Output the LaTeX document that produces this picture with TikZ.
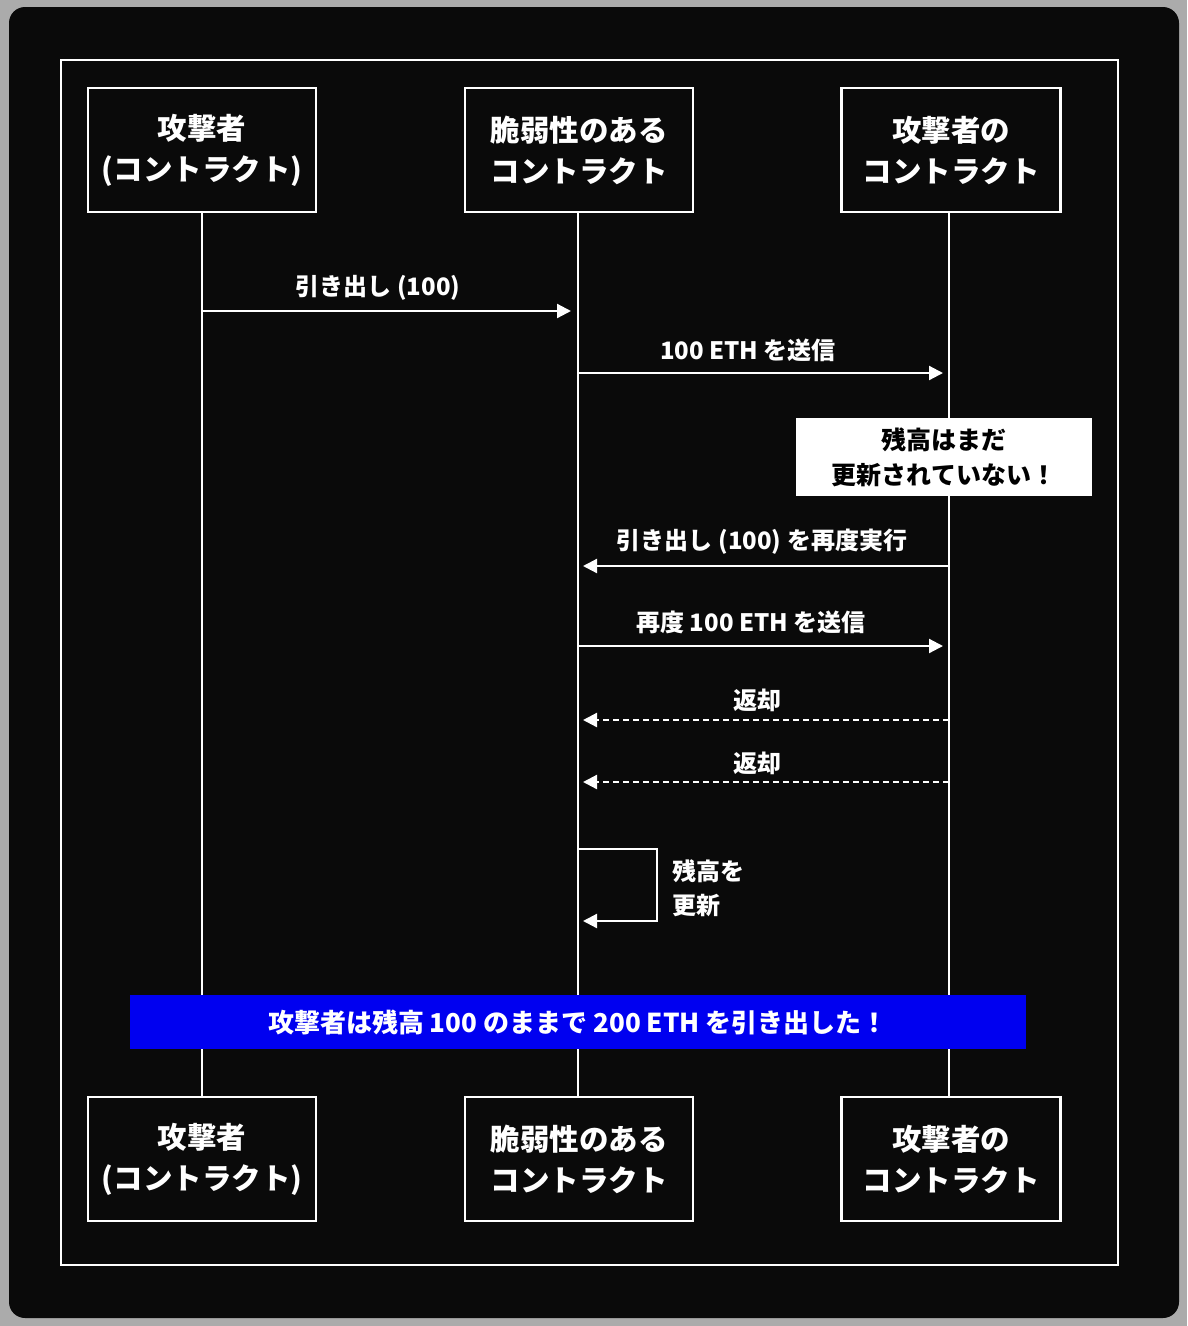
\documentclass[tikz,border=0pt]{standalone}
\usepackage{fontspec}
\setmainfont{Noto Sans CJK JP}
\usetikzlibrary{arrows.meta}
\definecolor{bggray}{HTML}{ABABAB}
\definecolor{panel}{HTML}{0A0A0A}
\definecolor{banner}{HTML}{0000F0}
\begin{document}
\begin{tikzpicture}[x=1pt,y=-1pt,
  actor/.style={draw=white,line width=2.5pt,fill=panel,text=white,align=center,
    minimum height=124pt,font=\bfseries\fontsize{29.5}{41}\selectfont,inner sep=0pt},
  life/.style={draw=white,line width=2.2pt},
  msg/.style={draw=white,line width=2.2pt,-{Triangle[length=14pt,width=14pt]}},
  ret/.style={msg,dash pattern=on 6pt off 4pt},
  lbl/.style={text=white,font=\bfseries\fontsize{24}{28}\selectfont,inner sep=0pt}
]
\useasboundingbox (0,0) rectangle (1187,1326);
\fill[bggray] (0,0) rectangle (1187,1326);
\fill[panel,rounded corners=16pt] (9,7) rectangle (1179,1318);
\draw[white,line width=2.8pt] (61,60) rectangle (1118,1265);

% actors
\node[actor,minimum width=228pt] (tA) at (202,150) {攻撃者\\(コントラクト)};
\node[actor,minimum width=228pt] (tV) at (579,150) {脆弱性のある\\コントラクト};
\node[actor,minimum width=219pt] (tC) at (951,150) {攻撃者の\\コントラクト};
\node[actor,minimum width=228pt] (bA) at (202,1159) {攻撃者\\(コントラクト)};
\node[actor,minimum width=228pt] (bV) at (579,1159) {脆弱性のある\\コントラクト};
\node[actor,minimum width=219pt] (bC) at (951,1159) {攻撃者の\\コントラクト};

% lifelines
\coordinate (xa) at (202,0);
\coordinate (xv) at (578,0);
\coordinate (xc) at (949,0);
\draw[life] (tA.south -| xa) -- (bA.north -| xa);
\draw[life] (tV.south -| xv) -- (bV.north -| xv);
\draw[life] (tC.south -| xc) -- (bC.north -| xc);

% messages
\coordinate (m1a) at (202,311); \coordinate (m1b) at (571,311);
\draw[msg] (m1a) -- (m1b);
\node[lbl] (l1) at (378,288) {引き出し (100)};

\coordinate (m2a) at (578,373); \coordinate (m2b) at (943,373);
\draw[msg] (m2a) -- (m2b);
\node[lbl] (l2) at (748,350) {100 ETH を送信};

\node[fill=white,minimum width=296pt,minimum height=78pt,inner sep=0pt,align=center,
  font=\bfseries\fontsize{25}{35}\selectfont,text=black] (note) at (944,457)
  {残高はまだ\\更新されていない！};

\coordinate (m3a) at (949,566); \coordinate (m3b) at (583,566);
\draw[msg] (m3a) -- (m3b);
\node[lbl] (l3) at (762,542) {引き出し (100) を再度実行};

\coordinate (m4a) at (578,646); \coordinate (m4b) at (943,646);
\draw[msg] (m4a) -- (m4b);
\node[lbl] (l4) at (751,622) {再度 100 ETH を送信};

\coordinate (m5a) at (949,720); \coordinate (m5b) at (583,720);
\draw[ret] (m5a) -- (m5b);
\node[lbl] (l5) at (757,700) {返却};

\coordinate (m6a) at (949,782); \coordinate (m6b) at (583,782);
\draw[ret] (m6a) -- (m6b);
\node[lbl] (l6) at (757,763) {返却};

% self loop
\coordinate (s1) at (578,849); \coordinate (s2) at (657,849);
\coordinate (s3) at (657,921); \coordinate (s4) at (583,921);
\draw[msg] (s1) -- (s2) -- (s3) -- (s4);
\node[lbl,anchor=west,align=left,font=\bfseries\fontsize{24}{34}\selectfont] (l7) at (672,888) {残高を\\更新};

% banner
\node[fill=banner,minimum width=896pt,minimum height=54pt,inner sep=0pt,text=white,
  font=\bfseries\fontsize{26}{30}\selectfont] (ban) at (578,1022)
  {攻撃者は残高 100 のままで 200 ETH を引き出した！};
\end{tikzpicture}
\end{document}
